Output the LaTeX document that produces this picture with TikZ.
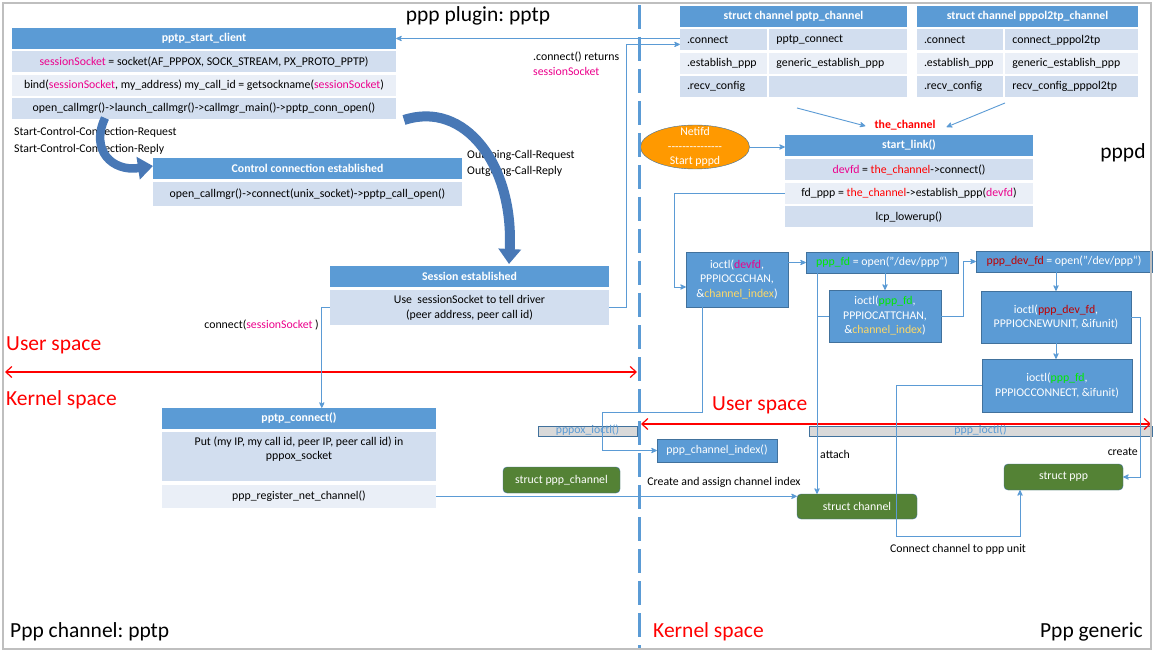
\documentclass[tikz,border=0pt]{standalone}
\usepackage{fontspec}
\setmainfont{Carlito}
\usetikzlibrary{arrows.meta, positioning, shapes.geometric}
\frenchspacing

\definecolor{hdrblue}{RGB}{91,155,213}
\definecolor{rowblue}{RGB}{210,222,239}
\definecolor{rowpale}{RGB}{234,239,247}
\definecolor{boxedge}{RGB}{65,113,156}
\definecolor{chgreen}{RGB}{84,130,53}
\definecolor{bargray}{RGB}{217,217,217}
\definecolor{netorange}{RGB}{255,153,0}
\definecolor{idxyellow}{RGB}{255,217,102}
\definecolor{fdgreen}{RGB}{0,235,0}
\definecolor{devred}{RGB}{192,0,0}
\definecolor{arrowfill}{RGB}{72,120,182}
\definecolor{spacered}{RGB}{255,0,0}

\newcommand{\sess}{\textcolor{magenta}{sessionSocket}}
\newcommand{\devfd}{\textcolor{magenta}{devfd}}
\newcommand{\thech}{\textcolor{spacered}{the\_channel}}
\newcommand{\chidx}{\textcolor{idxyellow}{channel\_index}}
\newcommand{\pppfd}{\textcolor{fdgreen}{ppp\_fd}}
\newcommand{\devppp}{\textcolor{devred}{ppp\_dev\_fd}}
\newcommand{\netdashes}{\foreach \k in {1,...,15}{\mbox{-}}}

\begin{document}
\begin{tikzpicture}[x=1pt, y=-1pt, >={Stealth[round, length=7pt, width=6.5pt]},
    font=\fontsize{11.8}{14.5}\selectfont,
    hdr/.style={fill=hdrblue, text=white, font=\fontsize{11.8}{14.5}\selectfont\bfseries, minimum height=21pt, inner sep=0pt},
    tblrow/.style={fill=rowblue, minimum height=21pt, inner sep=0pt, align=center},
    tblrowb/.style={tblrow, fill=rowpale},
    tblcell/.style={fill=rowblue, minimum height=21pt, inner xsep=7pt, inner ysep=0pt, align=left},
    tblcellb/.style={tblcell, fill=rowpale},
    iobox/.style={fill=hdrblue, draw=boxedge, text=white, align=center, inner sep=0pt},
    kbox/.style={fill=chgreen, draw=boxedge, text=white, rounded corners=4pt, inner sep=0pt},
    iobar/.style={fill=bargray, draw=boxedge, text=hdrblue, inner sep=0pt, text height=7pt, text depth=3pt},
    conn/.style={draw=hdrblue, line width=0.9pt, ->},
    lbl/.style={inner sep=0pt},
    spacelbl/.style={lbl, text=spacered, font=\fontsize{21.5}{24}\selectfont},
    bigtitle/.style={lbl, font=\fontsize{21.5}{24}\selectfont},
    spaceline/.style={draw=spacered, line width=1.2pt, {Straight Barb[length=6pt, width=11pt]}-{Straight Barb[length=6pt, width=11pt]}},
    curvearrow/.style={draw=arrowfill, -{Triangle[length=15pt, width=22pt]}},
    divider/.style={draw=hdrblue, line width=3pt, dash pattern=on 24pt off 8pt}]

  \fill[white] (0,0) rectangle (1156,652);
  \useasboundingbox (0,0) rectangle (1156,652);

  % pptp plugin side
  \node (plugin) [bigtitle] at (478,16) {ppp plugin: pptp};

  \node (sc) [hdr, minimum width=384pt] at (204,38.5) {pptp\_start\_client};
  \node (sc1) [tblrow, minimum width=384pt, below=2pt of sc] {\sess{} = socket(AF\_PPPOX, SOCK\_STREAM, PX\_PROTO\_PPTP)};
  \node (sc2) [tblrowb, minimum width=384pt, below=2pt of sc1] {bind(\sess, my\_address) my\_call\_id = getsockname(\sess)};
  \node (sc3) [tblrow, minimum width=384pt, below=2pt of sc2] {open\_callmgr()->launch\_callmgr()->callmgr\_main()->pptp\_conn\_open()};

  \node (scmsg) [lbl, anchor=west, align=left] at (14,140.5) {Start-Control-Connection-Request\\[2.5pt]Start-Control-Connection-Reply};
  \node (ocmsg) [lbl, anchor=west, align=left] at (467,163) {Outgoing-Call-Request\\[1.5pt]Outgoing-Call-Reply};

  \node (cc) [hdr, minimum width=309pt] at (307.5,168.5) {Control connection established};
  \node (cc1) [tblrow, minimum width=309pt, minimum height=24pt, below=3pt of cc] {open\_callmgr()->connect(unix\_socket)->pptp\_call\_open()};

  \node (se) [hdr, minimum width=279pt] at (469.5,276.5) {Session established};
  \node (se1) [tblrow, minimum width=279pt, minimum height=35pt, below=3pt of se] {Use\ \ sessionSocket to tell driver\\(peer address, peer call id)};

  \node (pc) [hdr, minimum width=274pt] at (299,418.5) {pptp\_connect()};
  \node (pc1) [tblrow, minimum width=274pt, minimum height=49pt, below=3pt of pc] {};
  \node (pcput) [lbl, align=center, below=4pt of pc1.north] {Put (my IP, my call id, peer IP, peer call id) in\\pppox\_socket};
  \node (pc2) [tblrowb, minimum width=274pt, minimum height=23pt, below=3pt of pc1] {ppp\_register\_net\_channel()};

  \node (spc) [kbox, minimum width=117pt, minimum height=26pt] at (561.5,480) {struct ppp\_channel};
  \node (pppoxbar) [iobar, minimum width=99pt] at (587.5,431.5) {pppox\_ioctl()};

  \draw[curvearrow, line width=8.5pt] (105,118) .. controls (90,150) and (112,172) .. (153,166);
  \draw[curvearrow, line width=10pt] (404,120) .. controls (465,100) and (514,165) .. (509,264);

  % pppd side
  \node (pt) [hdr, minimum width=227pt] at (793.5,16.5) {struct channel pptp\_channel};
  \node (pt1a) [tblcell, text width=73pt, below=2pt of pt.south west, anchor=north west] {.connect};
  \node (pt1b) [tblcell, text width=124pt, right=2pt of pt1a] {pptp\_connect};
  \node (pt2a) [tblcellb, text width=73pt, below=2pt of pt1a] {.establish\_ppp};
  \node (pt2b) [tblcellb, text width=124pt, right=2pt of pt2a] {generic\_establish\_ppp};
  \node (pt3a) [tblcell, text width=73pt, below=2pt of pt2a] {.recv\_config};
  \node (pt3b) [tblcell, text width=124pt, right=2pt of pt3a] {};

  \node (pl) [hdr, minimum width=221pt] at (1027.5,16.5) {struct channel pppol2tp\_channel};
  \node (pl1a) [tblcell, text width=72pt, below=2pt of pl.south west, anchor=north west] {.connect};
  \node (pl1b) [tblcell, text width=119pt, right=2pt of pl1a] {connect\_pppol2tp};
  \node (pl2a) [tblcellb, text width=72pt, below=2pt of pl1a] {.establish\_ppp};
  \node (pl2b) [tblcellb, text width=119pt, right=2pt of pl2a] {generic\_establish\_ppp};
  \node (pl3a) [tblcell, text width=72pt, below=2pt of pl2a] {.recv\_config};
  \node (pl3b) [tblcell, text width=119pt, right=2pt of pl3a] {recv\_config\_pppol2tp};

  \node (thech) [lbl, text=spacered, font=\fontsize{11.8}{14.5}\selectfont\bfseries] at (905,125) {the\_channel};
  \coordinate (ptout) at (797,108);
  \coordinate (plout) at (1005,103);

  \node (sl) [hdr, minimum width=248pt] at (909,145.5) {start\_link()};
  \node (sl1) [tblrow, minimum width=248pt, below=3pt of sl] {\devfd{} = \thech->connect()};
  \node (sl2) [tblrowb, minimum width=248pt, below=2pt of sl1] {fd\_ppp = \thech->establish\_ppp(\devfd)};
  \node (sl3) [tblrow, minimum width=248pt, below=2pt of sl2] {lcp\_lowerup()};

  \node (pppd) [bigtitle] at (1123,153) {pppd};

  \node (netifd) [ellipse, fill=netorange, draw=boxedge, minimum width=109pt, minimum height=44pt, inner sep=0pt] at (695,147) {};
  \node (netifdtxt) [lbl, text=white, align=center] at (netifd) {Netifd\\\netdashes\\Start pppd};

  \node (gchan) [iobox, minimum width=102pt, minimum height=55pt] at (737,279.5) {ioctl(\devfd,\\PPPIOCGCHAN,\\\&\chidx)};
  \node (pfd) [iobox, minimum width=152pt, minimum height=21pt] at (882,262.5) {\pppfd{} = open("/dev/ppp“)};
  \node (attchan) [iobox, minimum width=112pt, minimum height=52pt] at (885,316) {ioctl(\pppfd,\\PPPIOCATTCHAN,\\\&\chidx)};
  \node (pdev) [iobox, minimum width=176pt, minimum height=21pt] at (1064,261.5) {\devppp{} = open("/dev/ppp“)};
  \node (newunit) [iobox, minimum width=150pt, minimum height=52pt] at (1056,317) {ioctl(\devppp,\\PPPIOCNEWUNIT, \&ifunit)};
  \node (pconn) [iobox, minimum width=150pt, minimum height=53pt] at (1057,385.5) {ioctl(\pppfd,\\PPPIOCCONNECT, \&ifunit)};
  \node (chanidx) [iobox, minimum width=120pt, minimum height=23pt] at (717,450.5) {ppp\_channel\_index()};

  \node (pppbar) [iobar, minimum width=343pt] at (980.5,431) {ppp\_ioctl()};

  \node (chan) [kbox, minimum width=120pt, minimum height=25pt] at (857,506.5) {struct channel};
  \node (sppp) [kbox, minimum width=119pt, minimum height=26pt] at (1063.5,477) {struct ppp};

  % user / kernel split
  \draw[divider] (639,5) -- (639,650);
  \draw[spaceline] (5,372) -- (637,372);
  \draw[spaceline] (641,424) -- (1151,424);
  \node (usr1) [spacelbl, anchor=west] at (6,345) {User space};
  \node (krn1) [spacelbl, anchor=west] at (6,400) {Kernel space};
  \node (usr2) [spacelbl, anchor=west] at (712,405) {User space};
  \node (krn2) [spacelbl, anchor=west] at (653,632) {Kernel space};
  \node (chpptp) [bigtitle, anchor=west] at (10,632) {Ppp channel: pptp};
  \node (generic) [bigtitle, anchor=east] at (1143,632) {Ppp generic};

  % connectors
  \draw[conn] (pt1a.west |- sc.east) -- (sc.east);
  \node (ret) [lbl, anchor=west, align=left] at (533,63.5) {.connect() returns\\\sess};
  \draw[conn] (se1.east) -- ++(17,0) |- ([yshift=-4.5pt]pt1a.west);
  \draw[conn] (se1.west) -- ++(-8,0) coordinate (cs) -- (cs |- pc.north);
  \node (cslbl) [lbl, anchor=east] at (319,325) {connect(\sess{} )};

  \draw[conn] (ptout) -- ([xshift=-9pt,yshift=-1pt]thech.west);
  \draw[conn] (plout) -- ([xshift=11pt,yshift=-2pt]thech.east);
  \draw[conn] (netifd.east) -- (netifd.east -| sl.west);
  \draw[conn] (sl2.west) -| ([xshift=-11pt,yshift=-7.5pt]gchan.west) -- ([yshift=-7.5pt]gchan.west);

  \draw[conn] (gchan.east |- pfd.west) -- (pfd.west);
  \draw[conn] (pfd.south -| attchan.north) -- (attchan.north);
  \draw[conn] (attchan.east) -- ++(22,0) |- (pdev.west);
  \draw[conn] (pdev.south -| newunit.north) -- (newunit.north);
  \draw[conn] (newunit.south) -- (newunit.south |- pconn.north);

  \coordinate (ixbend) at (602,412);
  \draw[conn] ([xshift=-35pt]gchan.south) |- (ixbend) |- (chanidx.west);

  \draw[draw=hdrblue, line width=0.9pt] ([xshift=-65pt]pfd.south) -- ([xshift=-65pt]pfd.south |- attchan.west);
  \draw[conn] (attchan.west) -| ([xshift=-40pt]chan.north);
  \node (attach) [lbl, anchor=west] at (820,454) {attach};

  \draw[conn] (pc2.east) -- (chan.west |- pc2.east);
  \node (cai) [lbl] at (724,482) {Create and assign channel index};

  \draw[conn] (newunit.east) -- ++(9,0) |- (sppp.east);
  \node (create) [lbl, anchor=east] at (1138,452) {create};

  \coordinate (cu) at (896,536);
  \draw[conn] (pconn.west) -| (cu) -| ([xshift=-43.5pt]sppp.south);
  \node (cclbl) [lbl] at (958,549) {Connect channel to ppp unit};

  \draw[gray!50, line width=1.5pt] (3,3) rectangle (1151,649);
\end{tikzpicture}
\end{document}
